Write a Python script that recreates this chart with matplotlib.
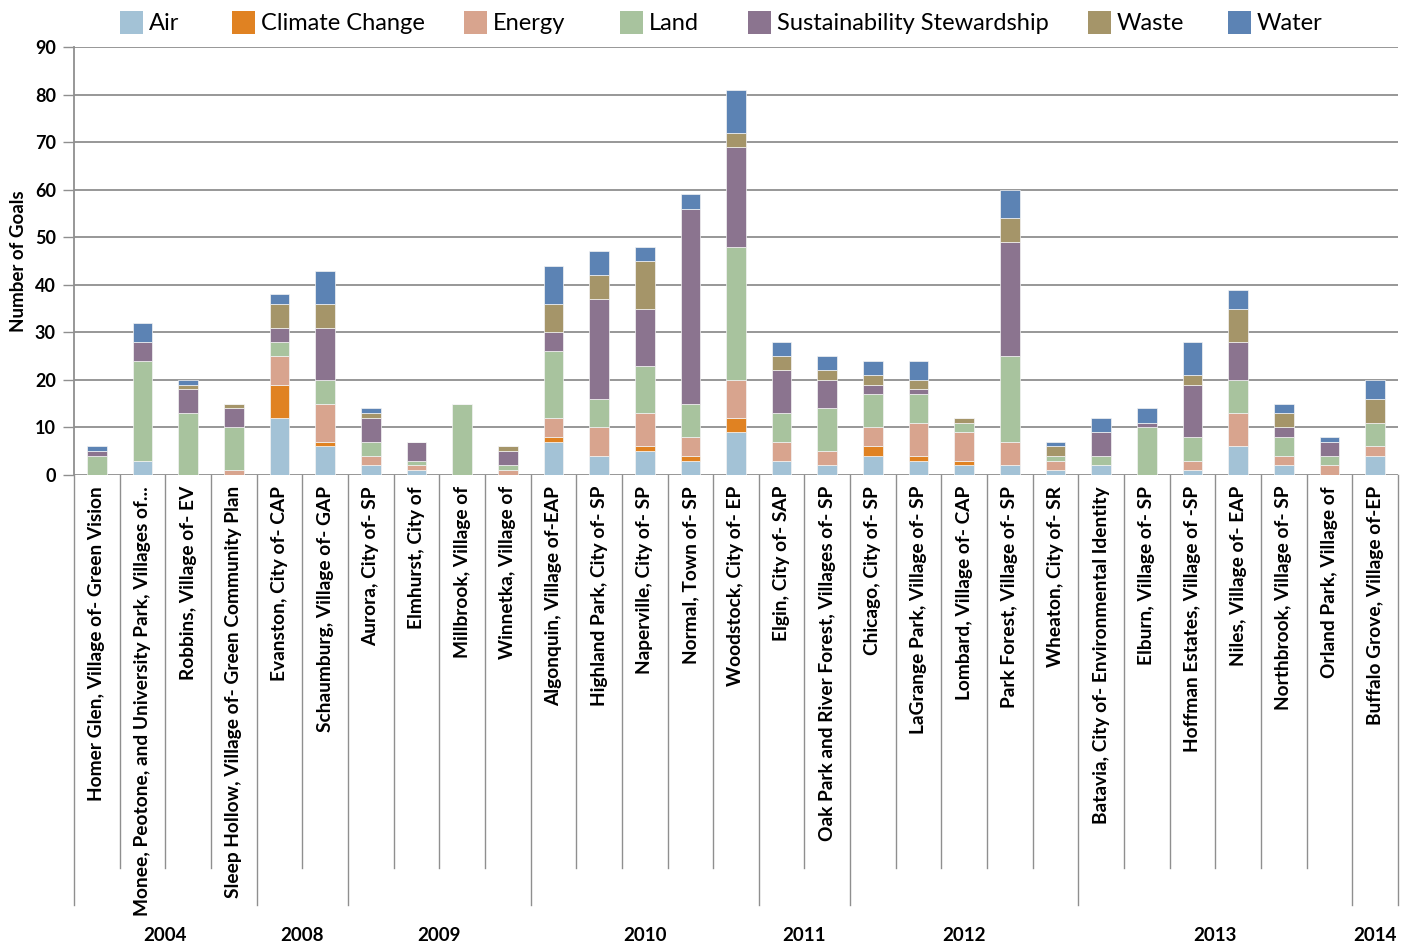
import matplotlib
matplotlib.use("Agg")
import matplotlib.pyplot as plt
import matplotlib.patches as mpatches
import matplotlib.transforms as mtransforms
import numpy as np

plt.rcParams['font.family'] = ['Lato', 'DejaVu Sans']

# ── Data ────────────────────────────────────────────────────────────────────
places = [
    "Homer Glen, Village of- Green Vision",
    "Monee, Peotone, and University Park, Villages of...",
    "Robbins, Village of- EV",
    "Sleep Hollow, Village of- Green Community Plan",
    "Evanston, City of- CAP",
    "Schaumburg, Village of- GAP",
    "Aurora, City of- SP",
    "Elmhurst, City of",
    "Millbrook, Village of",
    "Winnetka, Village of",
    "Algonquin, Village of-EAP",
    "Highland Park, City of- SP",
    "Naperville, City of- SP",
    "Normal, Town of- SP",
    "Woodstock, City of- EP",
    "Elgin, City of- SAP",
    "Oak Park and River Forest, Villages of- SP",
    "Chicago, City of- SP",
    "LaGrange Park, Village of- SP",
    "Lombard, Village of- CAP",
    "Park Forest, Village of- SP",
    "Wheaton, City of- SR",
    "Batavia, City of- Environmental Identity",
    "Elburn, Village of- SP",
    "Hoffman Estates, Village of -SP",
    "Niles, Village of- EAP",
    "Northbrook, Village of- SP",
    "Orland Park, Village of",
    "Buffalo Grove, Village of-EP",
]
years = ["2004", "2008", "2009", "2010", "2011", "2012", "2013", "2014"]
year_counts = [4, 2, 4, 5, 2, 5, 6, 1]

air      = [0, 3, 0, 0, 12, 6, 2, 1, 0, 0, 7, 4, 5, 3, 9, 3, 2, 4, 3, 2, 2, 1, 2, 0, 1, 6, 2, 0, 4]
climate  = [0, 0, 0, 0, 7, 1, 0, 0, 0, 0, 1, 0, 1, 1, 3, 0, 0, 2, 1, 1, 0, 0, 0, 0, 0, 0, 0, 0, 0]
energy   = [0, 0, 0, 1, 6, 8, 2, 1, 0, 1, 4, 6, 7, 4, 8, 4, 3, 4, 7, 6, 5, 2, 0, 0, 2, 7, 2, 2, 2]
land     = [4, 21, 13, 9, 3, 5, 3, 1, 15, 1, 14, 6, 10, 7, 28, 6, 9, 7, 6, 2, 18, 1, 2, 10, 5, 7, 4, 2, 5]
sust     = [1, 4, 5, 4, 3, 11, 5, 4, 0, 3, 4, 21, 12, 41, 21, 9, 6, 2, 1, 0, 24, 0, 5, 1, 11, 8, 2, 3, 0]
waste    = [0, 0, 1, 1, 5, 5, 1, 0, 0, 1, 6, 5, 10, 0, 3, 3, 2, 2, 2, 1, 5, 2, 0, 0, 2, 7, 3, 0, 5]
water    = [1, 4, 1, 0, 2, 7, 1, 0, 0, 0, 8, 5, 3, 3, 9, 3, 3, 3, 4, 0, 6, 1, 3, 3, 7, 4, 2, 1, 4]

series_names = ["Air", "Climate Change", "Energy", "Land",
                "Sustainability Stewardship", "Waste", "Water"]
series_vals = [air, climate, energy, land, sust, waste, water]
colors = ["#A3C2D6", "#E08222", "#D8A48E", "#A8C39E", "#8B748F", "#A59569", "#5C83B4"]

# ── Figure ──────────────────────────────────────────────────────────────────
W, H = 1409, 946
fig = plt.figure(figsize=(W / 100, H / 100), dpi=100)
ax = fig.add_axes([74 / W, 1 - 475 / H, (1398 - 74) / W, (475 - 47) / H])

x = np.arange(len(places))
bottom = np.zeros(len(places))
for name, vals, col in zip(series_names, series_vals, colors):
    ax.bar(x, vals, width=0.43, bottom=bottom, color=col, label=name,
           edgecolor="#f4f4f4", linewidth=0.5, zorder=3)
    bottom += np.array(vals)

ax.set_xlim(-0.5, len(places) - 0.5)
ax.set_ylim(0, 90)
ax.set_yticks(range(0, 91, 10))
ax.yaxis.grid(True, color="#8f8f8f", linewidth=1.3, zorder=0)
ax.set_axisbelow(True)
ax.tick_params(axis="y", length=8, width=1, color="#8f8f8f", labelsize=13, pad=5)
for lab in ax.get_yticklabels():
    lab.set_fontweight("bold")
ax.set_xticks([])
for s in ["top", "right", "bottom"]:
    ax.spines[s].set_visible(False)
ax.spines["left"].set_color("#8f8f8f")
ax.spines["left"].set_linewidth(1.3)

ax.set_ylabel("Number of Goals", fontsize=13.5, fontweight="bold", labelpad=6)

# ── Multi-level category axis ───────────────────────────────────────────────
trans = mtransforms.blended_transform_factory(ax.transData, ax.transAxes)
ax_h = 475 - 47
short_end = -(868 - 475) / ax_h
long_end = -(905 - 475) / ax_h
year_y = -(935 - 475) / ax_h
label_top = -(486 - 475) / ax_h

group_edges = np.cumsum([0] + year_counts)
for b in range(len(places) + 1):
    end = long_end if b in group_edges else short_end
    ax.plot([b - 0.5, b - 0.5], [0, end], color="#8f8f8f", linewidth=1.0,
            transform=trans, clip_on=False)

for i, name in enumerate(places):
    ax.text(i, label_top, name, rotation=90, ha="center", va="top",
            fontsize=13.8, fontweight="bold", transform=trans)

for yr, a, b in zip(years, group_edges[:-1], group_edges[1:]):
    ax.text((a + b - 1) / 2, year_y, yr, ha="center", va="center",
            fontsize=13.5, fontweight="bold", transform=trans)

# ── Legend ──────────────────────────────────────────────────────────────────
legend_x = [120, 232, 464, 620, 748, 1088, 1228]
for lx, name, col in zip(legend_x, series_names, colors):
    fig.patches.append(mpatches.Rectangle((lx / W, 1 - 34 / H), 23 / W, 23 / H,
                                          transform=fig.transFigure,
                                          facecolor=col, edgecolor="none"))
    fig.text((lx + 29) / W, 1 - 24 / H, name, ha="left", va="center",
             fontsize=17)

fig.savefig("out.png", dpi=100)
